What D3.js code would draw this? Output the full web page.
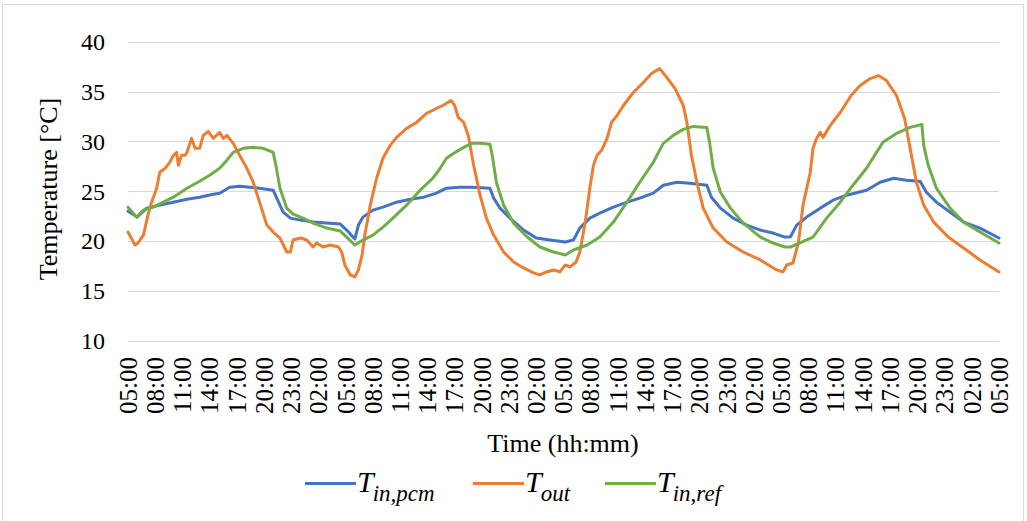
<!DOCTYPE html>
<html>
<head>
<meta charset="utf-8">
<script src="https://cdn.jsdelivr.net/npm/d3@7/dist/d3.min.js"></script>
<style>
  html, body { margin: 0; padding: 0; background: #fff; }
  svg { display: block; }
</style>
</head>
<body>
<svg id="chart" width="1027" height="521"></svg>
<script>
// ---------- DATA (hours since first 05:00, temperature °C) ----------
const tickLabels = ["05:00","08:00","11:00","14:00","17:00","20:00","23:00","02:00",
  "05:00","08:00","11:00","14:00","17:00","20:00","23:00","02:00",
  "05:00","08:00","11:00","14:00","17:00","20:00","23:00","02:00",
  "05:00","08:00","11:00","14:00","17:00","20:00","23:00","02:00","05:00"];
const yTicks = [10, 15, 20, 25, 30, 35, 40];

const tInPcm = [
  [0,23.0],[0.7,22.6],[1.0,22.4],[2.06,23.3],[3.5,23.6],[5,23.9],[6.5,24.2],[7.9,24.4],
  [9.4,24.7],[10.1,24.8],[11.2,25.4],[12.3,25.5],[13.4,25.4],[14.5,25.3],[16,25.1],
  [16.4,24.3],[17.1,22.9],[17.9,22.3],[19,22.1],[20.4,21.9],[21.9,21.8],[23.4,21.7],
  [24.1,21.1],[25,20.2],[25.4,21.6],[25.9,22.4],[27,23.1],[28.1,23.4],[29.6,23.9],
  [31.1,24.2],[32.6,24.4],[34,24.8],[35.1,25.3],[36.6,25.4],[38,25.4],[39.9,25.3],
  [40.3,24.3],[41,23.3],[42.1,22.3],[43.6,21.1],[45,20.3],[46.5,20.1],[48.2,19.9],
  [49.1,20.1],[49.8,21.3],[50.9,22.3],[52,22.8],[53.5,23.4],[55,23.9],[56.4,24.3],
  [57.9,24.8],[59,25.6],[60.5,25.9],[61.9,25.8],[63.8,25.6],[64.3,24.4],[65.3,23.3],
  [66.7,22.3],[68.2,21.6],[69.7,21.1],[71.1,20.8],[72.4,20.4],[73,20.4],[73.7,21.6],
  [74.8,22.4],[76.3,23.3],[77.7,24.1],[79.2,24.6],[81.4,25.1],[82.9,25.9],[84.4,26.3],
  [85.8,26.1],[87.3,26.0],[88,24.9],[89.1,23.9],[90.6,22.9],[92.1,21.9],[93.9,21.3],[96,20.3]
];

const tOut = [
  [0,20.9],[0.77,19.6],[1.1,19.8],[1.7,20.6],[2.2,22.6],[2.6,23.9],[3.16,25.3],[3.5,26.9],
  [4.1,27.3],[4.6,27.9],[5,28.6],[5.36,28.9],[5.55,27.6],[5.9,28.6],[6.3,28.6],[6.5,28.9],
  [7,30.3],[7.4,29.3],[7.9,29.3],[8.3,30.6],[8.85,31.0],[9.4,30.3],[10.1,30.9],[10.5,30.3],
  [10.9,30.6],[11.6,29.8],[12.3,28.6],[13.1,27.3],[13.8,25.9],[14.5,23.9],[15.3,21.6],
  [16,20.9],[16.75,20.3],[17.5,18.9],[17.9,18.9],[18.2,20.1],[19,20.3],[19.7,20.1],
  [20.4,19.4],[20.8,19.8],[21.5,19.4],[22.3,19.6],[23.2,19.4],[23.55,18.9],[23.9,17.6],
  [24.5,16.6],[25,16.4],[25.4,17.1],[25.8,18.6],[26.1,20.6],[26.7,23.6],[27.4,26.3],
  [28.1,28.3],[28.9,29.6],[29.6,30.4],[30.7,31.3],[31.8,31.9],[32.9,32.8],[34,33.3],
  [34.7,33.6],[35.6,34.1],[36,33.6],[36.4,32.4],[37,31.9],[37.5,30.6],[38.1,27.6],
  [38.8,24.6],[39.5,22.3],[40.3,20.6],[41.4,18.9],[42.5,17.9],[43.6,17.3],[44.7,16.8],
  [45.4,16.6],[46.1,16.9],[46.9,17.1],[47.6,16.9],[48.2,17.6],[48.7,17.4],[49.4,17.9],
  [49.8,18.9],[50.4,21.9],[50.9,25.3],[51.3,27.6],[51.7,28.6],[52.2,29.1],[52.8,30.3],
  [53.3,31.9],[53.9,32.6],[54.6,33.6],[55.7,34.9],[56.8,35.9],[57.7,36.8],[58.6,37.3],
  [59.4,36.4],[60.3,35.3],[61.2,33.6],[61.6,31.9],[62.1,28.6],[62.7,25.9],[63.4,23.3],
  [64.5,21.3],[66,19.9],[67.8,18.9],[69.7,18.1],[71.5,17.1],[72.2,16.9],[72.6,17.6],
  [73.3,17.8],[73.9,19.9],[74.4,23.6],[75.2,26.9],[75.5,29.3],[75.9,30.3],[76.3,30.9],
  [76.6,30.4],[77.4,31.6],[78.5,32.9],[79.7,34.6],[80.7,35.6],[81.8,36.3],[82.7,36.6],
  [83.6,36.1],[84.7,34.6],[85.6,32.3],[86.2,29.3],[86.9,25.9],[87.7,23.6],[88.8,21.9],
  [90.4,20.4],[92.1,19.3],[93.9,18.1],[96,16.9]
];

const tInRef = [
  [0,23.4],[0.95,22.4],[1.7,23.1],[2.8,23.4],[3.9,23.9],[5,24.4],[6.5,25.3],[7.9,26.0],
  [9,26.6],[10.1,27.3],[10.9,28.1],[11.6,28.9],[12.7,29.3],[13.8,29.4],[14.9,29.3],
  [16,28.9],[16.3,27.6],[16.75,25.3],[17.5,23.3],[18.2,22.7],[19.3,22.3],[20.4,21.8],
  [21.9,21.3],[23.4,21.0],[24.1,20.4],[25,19.6],[25.9,20.1],[27,20.6],[28.1,21.4],
  [29.2,22.3],[30.7,23.6],[32.2,25.1],[33.6,26.3],[34.4,27.3],[35.1,28.3],[35.9,28.8],
  [37,29.4],[37.9,29.8],[38.8,29.8],[39.9,29.7],[40.2,28.3],[40.6,25.9],[41.4,23.6],
  [42.5,21.8],[44,20.4],[45.4,19.4],[46.9,18.9],[48.2,18.6],[49.1,19.1],[50.6,19.6],
  [52,20.4],[53.5,21.9],[55,23.9],[56.4,25.9],[57.9,27.9],[59,29.8],[60.1,30.6],
  [61.2,31.2],[62.3,31.5],[63.8,31.4],[64.1,29.9],[64.5,27.3],[65.3,24.9],[66.4,23.3],
  [67.8,21.8],[69.7,20.4],[71.1,19.8],[72.4,19.4],[73,19.4],[74,19.8],[75.5,20.4],
  [77,22.3],[78.5,23.9],[79.9,25.6],[81.4,27.3],[82.5,28.9],[83.2,29.9],[84.7,30.8],
  [86.2,31.4],[87.5,31.7],[87.7,29.6],[88.2,27.6],[89.1,25.3],[90.6,23.3],[92.1,21.9],
  [93.9,20.9],[96,19.8]
];

const seriesNames = ["in,pcm", "out", "in,ref"];
const seriesColors = ["#4472C4", "#ED7D31", "#70AD47"];

// ---------- CHART ----------
const FONT = '"Liberation Serif"';
const svg = d3.select("#chart");

svg.append("rect").attr("x", 0).attr("y", 0).attr("width", 1027).attr("height", 521).attr("fill", "#fff");
svg.append("rect").attr("x", 2.5).attr("y", 4.5).attr("width", 1021).attr("height", 530)
  .attr("fill", "none").attr("stroke", "#d9d9d9").attr("stroke-width", 1);

const x = d3.scaleLinear().domain([0, 96]).range([128, 999]);
const y = d3.scaleLinear().domain([10, 40]).range([340.7, 41.7]);

// gridlines
svg.append("g").selectAll("line").data(yTicks).join("line")
  .attr("x1", x(0)).attr("x2", x(96))
  .attr("y1", d => Math.round(y(d)) + 0.5).attr("y2", d => Math.round(y(d)) + 0.5)
  .attr("stroke", "#d9d9d9").attr("stroke-width", 1);

// y tick labels
svg.append("g").selectAll("text").data(yTicks).join("text")
  .attr("x", 105).attr("y", d => y(d)).attr("dy", "0.35em")
  .attr("text-anchor", "end").attr("font-size", 24).attr("fill", "#000")
  .style("font-family", FONT)
  .text(d => d);

// x tick labels
svg.append("g").selectAll("text").data(tickLabels).join("text")
  .attr("transform", (d, i) => `translate(${x(i * 3)},357) rotate(-90)`)
  .attr("dy", "0.35em").attr("text-anchor", "end")
  .attr("font-size", 25).attr("fill", "#000")
  .style("font-family", FONT)
  .text(d => d);

// axis titles
svg.append("text").attr("transform", "translate(57,189) rotate(-90)")
  .attr("text-anchor", "middle").attr("font-size", 26).attr("fill", "#000")
  .style("font-family", FONT)
  .text("Temperature [°C]");
svg.append("text").attr("x", 563).attr("y", 452)
  .attr("text-anchor", "middle").attr("font-size", 26).attr("fill", "#000")
  .style("font-family", FONT)
  .text("Time (hh:mm)");

// lines
const line = d3.line().x(d => x(d[0])).y(d => y(d[1]));
const allSeries = [tInPcm, tOut, tInRef];
svg.append("g").selectAll("path").data(allSeries).join("path")
  .attr("d", line).attr("fill", "none")
  .attr("stroke", (d, i) => seriesColors[i]).attr("stroke-width", 3)
  .attr("stroke-linejoin", "round").attr("stroke-linecap", "round");

// legend
const legendX = [305, 473, 605];
const lg = svg.append("g");
seriesNames.forEach((name, i) => {
  lg.append("line").attr("x1", legendX[i]).attr("x2", legendX[i] + 51)
    .attr("y1", 483.5).attr("y2", 483.5).attr("stroke", seriesColors[i]).attr("stroke-width", 3);
  const t = lg.append("text").attr("x", legendX[i] + 52).attr("y", 492)
    .attr("font-style", "italic").attr("fill", "#000")
    .style("font-family", FONT);
  t.append("tspan").attr("font-size", 30).text("T");
  t.append("tspan").attr("font-size", 23).attr("dy", 9).attr("dx", -1).text(name);
});
</script>
</body>
</html>
